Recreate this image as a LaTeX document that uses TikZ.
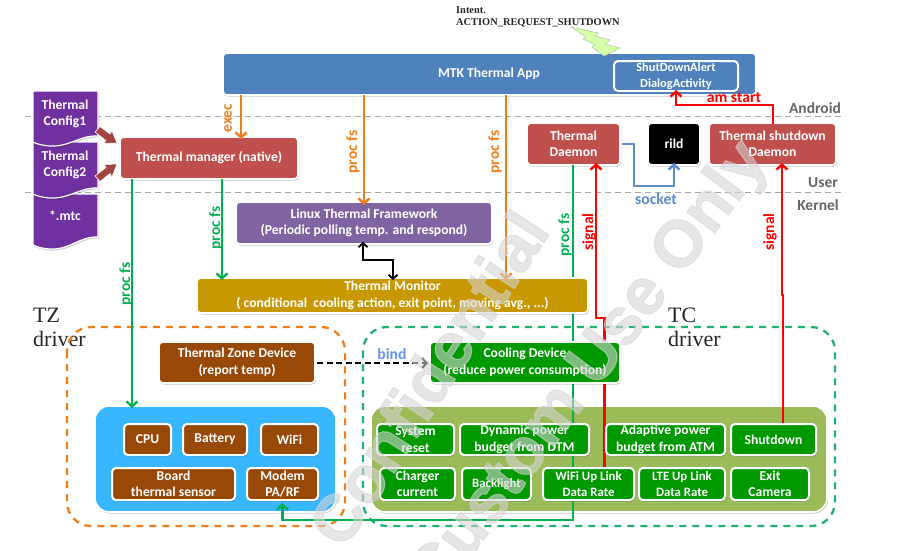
\documentclass[tikz,border=0pt]{standalone}
\usepackage{fontspec}
\setmainfont{Carlito}
\newfontfamily\serifbody{Liberation Serif}
\newfontfamily\markfont[BoldFeatures={FakeBold=1.6}]{Liberation Sans}
\usetikzlibrary{arrows.meta,shadows}
\definecolor{cblue}{HTML}{4F81BD}
\definecolor{cred}{HTML}{C0504D}
\definecolor{cpurple}{HTML}{8064A2}
\definecolor{cdeep}{HTML}{7030A0}
\definecolor{cgold}{HTML}{C89800}
\definecolor{cbrown}{HTML}{984807}
\definecolor{cgreen}{HTML}{009900}
\definecolor{csky}{HTML}{38B6FF}
\definecolor{colive}{HTML}{9BBB59}
\definecolor{corange}{HTML}{F07D1A}
\definecolor{cline}{HTML}{00B050}
\definecolor{csock}{HTML}{5B8BC8}
\definecolor{cbind}{HTML}{6495ED}
\definecolor{cdash}{HTML}{20B070}
\tikzset{
  boxbase/.style={draw=white,line width=1.6pt,rounded corners=4pt,text=white,font=\bfseries\fontsize{13.6}{16.5}\selectfont,align=center,inner sep=0pt,outer sep=0pt,drop shadow={shadow xshift=1pt,shadow yshift=-1.5pt,fill=black,opacity=.22}},
  smallbox/.style={boxbase,line width=2pt},
  tightbox/.style={smallbox,font=\bfseries\fontsize{12.8}{16}\selectfont},
  panel/.style={boxbase,rounded corners=14pt},
  wire/.style={line width=2.4pt,-{Straight Barb[length=5pt,width=11pt,line width=2.4pt]}},
  vlabel/.style={rotate=90,font=\bfseries\fontsize{15.5}{15.5}\selectfont,inner sep=0pt},
  hlabel/.style={font=\bfseries\fontsize{15.7}{15.7}\selectfont,inner sep=0pt},
  tier/.style={font=\bfseries\fontsize{15.5}{15.5}\selectfont,text=black!60,inner sep=0pt},
  tierline/.style={draw=black!35,line width=1pt,dash pattern=on 6pt off 4pt},
  driverbox/.style={line width=2.3pt,dash pattern=on 7pt off 6pt,rounded corners=24pt},
  drivertext/.style={font=\serifbody\fontsize{22}{24}\selectfont,align=left,inner sep=0pt,anchor=north west,text=black!85},
  blockarrow/.style={fill=cred!85!black,draw=white,line width=.6pt},
  docshape/.style={fill=cdeep,draw=white,line width=1.2pt,drop shadow={shadow xshift=1pt,shadow yshift=-1.5pt,fill=black,opacity=.2}},
  doctext/.style={text=white,font=\bfseries\fontsize{13.6}{16.2}\selectfont,align=center,inner sep=0pt},
  mark text/.style={text=black!17,opacity=.58,font=\markfont\bfseries\fontsize{66}{66}\selectfont,inner sep=0pt,anchor=east}
}
\newcommand{\bx}[7]{% name x1 y1 x2 y2 style text
  \pgfmathsetmacro{\bxw}{#4-#2}\pgfmathsetmacro{\bxh}{#5-#3}
  \pgfmathsetmacro{\bxx}{(#2+#4)/2}\pgfmathsetmacro{\bxy}{(#3+#5)/2}
  \node[#6,minimum width=\bxw pt,minimum height=\bxh pt] (#1) at (\bxx,\bxy) {#7};}
\begin{document}
\begin{tikzpicture}[x=1pt,y=-1pt]
\useasboundingbox (0,0) rectangle (922,550);
% tier lines
\coordinate (tl1) at (25,116); \coordinate (tr1) at (845,116);
\coordinate (tl2) at (25,192); \coordinate (tr2) at (845,192);
\draw[tierline] (tl1) -- (tr1);
\draw[tierline] (tl2) -- (tr2);
\node[tier] (tAndroid) at (815,108) {Android};
\node[tier] (tUser) at (823,183) {User};
\node[tier] (tKernel) at (818,205) {Kernel};
% top label
\node[font=\serifbody\bfseries\fontsize{10.4}{12.5}\selectfont,align=left,anchor=north west,inner sep=0pt,text=black!85] (intent) at (456,6) {Intent.\\ACTION\_REQUEST\_SHUTDOWN};
% driver groups
\node[drivertext] (tzlabel) at (33,308) {TZ\\driver};
\node[drivertext] (tclabel) at (668,308) {TC\\driver};
\draw[driverbox,draw=corange] (67,327) rectangle (345,526);
\draw[driverbox,draw=cdash] (363,327) rectangle (835,526);
% panels
\bx{tzpanel}{95}{406}{336}{512}{panel,fill=csky}{}
\bx{tcpanel}{371}{406}{827}{512}{panel,fill=colive}{}
% main boxes
\bx{app}{223}{53}{756}{95}{boxbase,fill=cblue}{}
\node[text=white,font=\bfseries\fontsize{13.6}{16}\selectfont,inner sep=0pt] (applabel) at (489,74) {MTK Thermal App};
\bx{alert}{614}{61}{738}{91}{smallbox,fill=cblue,drop shadow={opacity=0},font=\bfseries\fontsize{12.4}{15.5}\selectfont}{ShutDownAlert\\DialogActivity}
\bx{mgr}{120}{137}{298}{179}{boxbase,fill=cred}{Thermal manager (native)}
\bx{ltf}{236}{202}{492}{244}{boxbase,fill=cpurple}{Linux Thermal Framework\\(Periodic polling temp. and respond)}
\bx{daemon}{527}{123}{620}{165}{boxbase,fill=cred}{Thermal\\Daemon}
\bx{rild}{648}{123}{700}{165}{boxbase,fill=black}{rild}
\bx{sdd}{709}{123}{836}{165}{boxbase,fill=cred}{Thermal shutdown\\Daemon}
% wires behind later boxes
\coordinate (gb) at (573,520);
\coordinate (wifiuptop) at (606,468);
\coordinate (shuttop) at (783,424);
\coordinate (rj1) at (604.5,318); \coordinate (rj2) at (596,318);
\coordinate (sj1) at (783,295); \coordinate (sj2) at (782,295);
\coordinate (modembot) at (282.5,503);
\draw[wire,draw=cline] (daemon.south -| gb) -- (gb) -| (modembot);
\draw[wire,draw=red] (wifiuptop -| rj1) -- (rj1) -- (rj2) -- ([yshift=2pt]daemon.south -| rj2);
\draw[wire,draw=red] (shuttop) -- (sj1) -- (sj2) -- ([yshift=2pt]sdd.south -| sj2);
\bx{mon}{197}{278}{588}{313}{boxbase,fill=cgold}{Thermal Monitor\\( conditional~ cooling action, exit point, moving avg., ...)}
\bx{zone}{159}{342}{315}{383}{boxbase,fill=cbrown}{Thermal Zone Device\\(report temp)}
\bx{cool}{430}{342}{620}{383}{boxbase,fill=cgreen}{Cooling Device\\(reduce power consumption)}
% TZ members
\bx{cpu}{124}{424}{171}{455}{smallbox,fill=cbrown}{CPU}
\bx{batt}{183}{424}{247}{455}{smallbox,fill=cbrown}{Battery}
\bx{wifi}{261}{424}{318}{455}{smallbox,fill=cbrown}{WiFi}
\bx{board}{112}{468}{235}{500}{smallbox,fill=cbrown}{Board\\thermal sensor}
\bx{modem}{247}{468}{318}{500}{smallbox,fill=cbrown}{Modem\\PA/RF}
% TC members
\bx{sysreset}{377}{424}{454}{455}{smallbox,fill=cgreen}{System\\reset}
\bx{dyn}{460}{424}{589}{455}{smallbox,fill=cgreen}{Dynamic power\\budget from DTM}
\bx{adapt}{606}{424}{725}{455}{smallbox,fill=cgreen}{Adaptive power\\budget from ATM}
\bx{shut}{731}{424}{816}{455}{smallbox,fill=cgreen}{Shutdown}
\bx{charger}{380}{468}{455}{500}{smallbox,fill=cgreen}{Charger\\current}
\bx{backl}{462}{468}{531}{500}{tightbox,fill=cgreen}{Backlight}
\bx{wifiup}{543}{468}{634}{500}{tightbox,fill=cgreen}{WiFi Up Link\\Data Rate}
\bx{lte}{639}{468}{725}{500}{tightbox,fill=cgreen}{LTE Up Link\\Data Rate}
\bx{exitc}{731}{468}{809}{500}{smallbox,fill=cgreen}{Exit\\Camera}
% other wires
\draw[wire,draw=corange] (app.south -| 241,0) -- ([yshift=-2pt]mgr.north -| 241,0);
\draw[wire,draw=corange] (app.south -| 364,0) -- ([yshift=-3pt]ltf.north -| 364,0);
\draw[wire,draw=corange] (app.south -| 506,0) -- ([yshift=-2pt]mon.north -| 506,0);
\draw[wire,draw=cline] (mgr.south -| 132,0) -- ([yshift=-2pt]tzpanel.north -| 132,0);
\draw[wire,draw=cline] (mgr.south -| 222,0) -- ([yshift=-2pt]mon.north -| 222,0);
\coordinate (am1) at (773,105); \coordinate (am2) at (676,105);
\draw[wire,draw=red] ([yshift=-1pt]sdd.north -| am1) -- (am1) -- (am2) -- ([yshift=1pt]alert.south -| am2);
\coordinate (so1) at (634,186); \coordinate (so2) at (674,186);
\draw[wire,draw=csock] ([xshift=2pt]daemon.east) -| (so1) -- (so2) -- ([yshift=2pt]rild.south -| so2);
\coordinate (bi1) at (363,260); \coordinate (bi2) at (393,260);
\draw[line width=1.8pt,black,{Straight Barb[length=4pt,width=9pt,line width=1.8pt]}-{Straight Barb[length=4pt,width=9pt,line width=1.8pt]}] ([yshift=2pt]ltf.south -| bi1) -- (bi1) -- (bi2) -- ([yshift=-2pt]mon.north -| bi2);
\draw[line width=2.2pt,black,dash pattern=on 6pt off 3.5pt,-{Straight Barb[length=4.5pt,width=10pt,line width=2pt]}] ([xshift=2pt,yshift=-.5pt]zone.east) -- ([xshift=-2pt,yshift=-.5pt]cool.west);
% wire labels
\node[vlabel,text=corange] (lexec) at (228,118) {exec};
\node[vlabel,text=corange] (lp1) at (353,152) {proc fs};
\node[vlabel,text=corange] (lp2) at (495,152) {proc fs};
\node[vlabel,text=cline] (lp3) at (126,284) {proc fs};
\node[vlabel,text=cline] (lp4) at (216,228) {proc fs};
\node[vlabel,text=cline] (lp5) at (565,235) {proc fs};
\node[vlabel,text=red] (ls1) at (589,232) {signal};
\node[vlabel,text=red] (ls2) at (770,232) {signal};
\node[hlabel,text=red] (lam) at (734,98) {am start};
\node[hlabel,text=csock] (lsock) at (656,199) {socket};
\node[hlabel,text=cbind] (lbind) at (392,354) {bind};
% documents
\draw[docshape] (33,194) -- (98,194) -- (98,237) .. controls (80,236) and (70,250) .. (50,249) .. controls (42,248.5) and (37,247) .. (33,245) -- cycle;
\draw[docshape] (33,142) -- (98,142) -- (98,188) .. controls (80,187) and (70,199) .. (50,198) .. controls (42,197.5) and (37,196) .. (33,194) -- cycle;
\draw[docshape] (33,91) -- (98,91) -- (98,136) .. controls (80,135) and (70,147) .. (50,146) .. controls (42,145.5) and (37,144) .. (33,142) -- cycle;
\node[doctext] (d1) at (65,113.5) {Thermal\\Config1};
\node[doctext] (d2) at (65,164.5) {Thermal\\Config2};
\node[doctext] (d3) at (65,216) {*.mtc};
% block arrows
\draw[blockarrow] (95,132) -- (100,126.5) -- (110,134) -- (112,131) -- (117,143) -- (104,143.5) -- (106,140.5) -- cycle;
\draw[blockarrow] (95,176) -- (100,181.5) -- (110,173.5) -- (112,177) -- (117,164) -- (104,164.5) -- (106,167.5) -- cycle;
% lightning
\draw[fill=green!45!yellow!35!white,draw=green!35!black!35,line width=.5pt] (571,27) -- (598,33) -- (595,36) -- (610,40) -- (605,44) -- (620,48) -- (604,56) -- (592,47) -- (595,45) -- (583,39) -- (586,37) -- cycle;
% watermark
\node[mark text,rotate=57] (wm1) at (532,218) {Confidential};
\node[mark text,rotate=53] (wm2) at (756,150) {Custom Use Only};
\end{tikzpicture}
\end{document}
